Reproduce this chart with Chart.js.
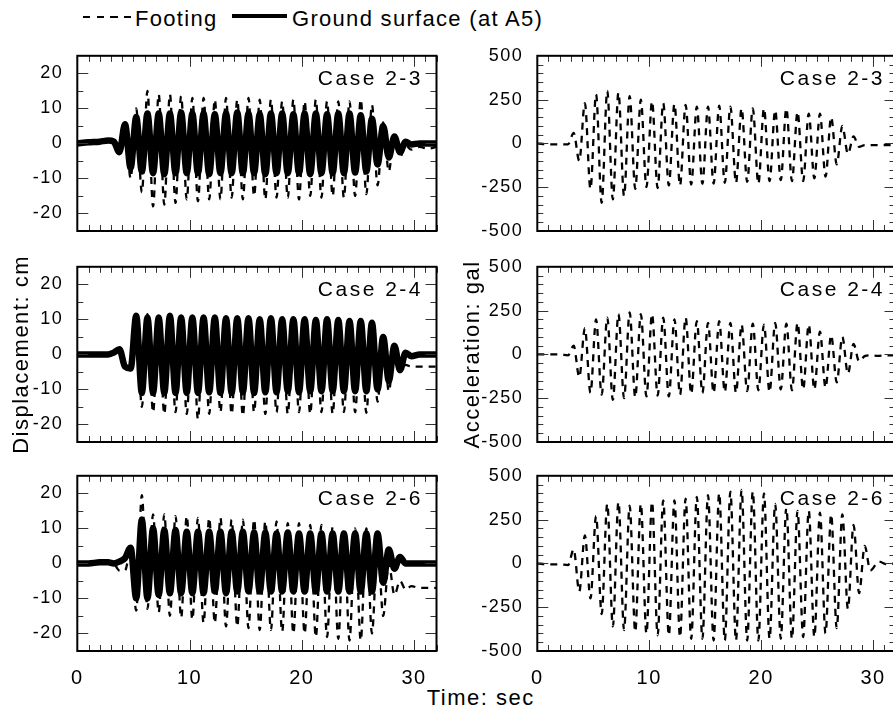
<!DOCTYPE html>
<html>
<head>
<meta charset="utf-8">
<script src="https://cdn.jsdelivr.net/npm/chart.js@4"></script>
<style>
  html, body { margin: 0; padding: 0; background: #fff; width: 893px; height: 714px; overflow: hidden; }
  canvas { position: absolute; }
  .txt { position: absolute; font-family: 'Liberation Sans', Arial, sans-serif; font-size: 22px; line-height: 22px; color: #000; white-space: nowrap; }
</style>
</head>
<body>
<div style="position:absolute;left:83.3px;top:15.7px;width:48.4px;height:2px;background:repeating-linear-gradient(90deg,#000 0 7.3px,transparent 7.3px 13.7px)"></div>
<div class="txt" style="left:135px;top:8px;letter-spacing:1.3px">Footing</div>
<div style="position:absolute;left:232px;top:14.3px;width:55px;height:4px;background:#000"></div>
<div class="txt" style="left:292px;top:8px;letter-spacing:1.3px">Ground surface (at A5)</div>
<div class="txt" style="left:426.7px;top:687.4px;letter-spacing:1.5px">Time: sec</div>

<canvas id="d23" width="440" height="232" style="left:0;top:39px"></canvas>
<canvas id="d24" width="440" height="232" style="left:0;top:250px"></canvas>
<canvas id="d26" width="440" height="232" style="left:0;top:459px"></canvas>
<canvas id="a23" width="439" height="232" style="left:460px;top:39px"></canvas>
<canvas id="a24" width="439" height="232" style="left:460px;top:250px"></canvas>
<canvas id="a26" width="439" height="232" style="left:460px;top:459px"></canvas>

<script>
// time of each turning point, sec
const timeSec = [0, 1, 2,
  2.75, 3.25, 3.75, 4.25, 4.75,
  5.25, 5.75, 6.25, 6.75, 7.25, 7.75, 8.25, 8.75, 9.25, 9.75,
  10.25, 10.75, 11.25, 11.75, 12.25, 12.75, 13.25, 13.75, 14.25, 14.75,
  15.25, 15.75, 16.25, 16.75, 17.25, 17.75, 18.25, 18.75, 19.25, 19.75,
  20.25, 20.75, 21.25, 21.75, 22.25, 22.75, 23.25, 23.75, 24.25, 24.75,
  25.25, 25.75, 26.25, 26.75, 27.25, 27.75, 28.25, 28.75, 29.25, 29.75,
  30.5, 31.25, 32]

// displacement, cm
const ground23 = [0, 0.3, 0.5,
  0.8, 0.5, -2.5, 5.5, -7,
  7.5, -8, 8.5, -8.5, 8.5, -8.8, 8.5, -8.5, 8.8, -8.5,
  8.5, -8.5, 8.5, -8.8, 8.3, -8.5, 8.5, -8.5, 8.8, -8.5,
  8.5, -8.5, 8.3, -8.8, 8.5, -8.5, 8.5, -8.5, 8.3, -8.5,
  8.5, -8.8, 8.5, -8.5, 8.3, -8.5, 8.5, -8.5, 8.5, -8.3,
  8, -8, 7, -6, 5, -4, 2, -2.5, 0.5, -0.3,
  0, 0, 0]
const footing23 = [0, 0.3, 0.5,
  0.8, 0, -3, 6, -10,
  10, -14, 15, -18, 14, -17.5, 14, -17, 13.5, -16,
  13, -16.5, 13, -16, 12.5, -16, 13, -15.5, 12.5, -16,
  13, -15, 12.5, -16, 12.5, -15.5, 12, -15.5, 12.5, -16,
  12, -15, 12.5, -15.5, 12, -15, 12, -15.5, 12, -15,
  12.5, -14.5, 11, -12, 6, -8, 3, -4, -0.5, -1.8,
  -1, -1.5, -1]
const ground24 = [0, 0, 0,
  0, 0.5, 1.5, -3.5, -4,
  11, -11, 10.5, -11, 10.5, -11, 11, -11, 10.5, -11,
  10.5, -11, 10.5, -10.8, 10.5, -11, 10.3, -11, 10.3, -10.8,
  10.3, -11, 10, -10.8, 10.3, -10.8, 10, -10.5, 10, -10.8,
  10, -10.5, 9.8, -10.5, 10, -10.5, 9.8, -10.5, 9.5, -10.5,
  9.5, -10.5, 9, -10, 5, -7.5, 2.5, -4.5, 0.5, -0.5,
  0, 0, 0]
const footing24 = [0, 0, 0,
  0, 0.5, 1.5, -3.5, -4.5,
  12, -15, 11.5, -16.5, 11, -17, 11.5, -16.5, 11, -17,
  11, -18.5, 11, -17, 10.5, -16.5, 10.8, -17, 10.5, -17.5,
  10.5, -16.5, 10.3, -17, 10.5, -16.5, 10.3, -17, 10, -16.5,
  10.3, -17, 10, -16.5, 10, -17, 10, -16.5, 9.8, -16.5,
  9.5, -16.7, 9, -13.5, 5, -10.5, 1, -5, -3, -3.5,
  -3.5, -3.5, -3.5]
const ground26 = [0, 0, 0.3,
  0.3, 0, 0.5, 1.5, 4.5,
  -10, 12.5, -10, 10, -9, 9.5, -8.5, 9.5, -8.5, 9,
  -8.5, 9, -8.5, 9, -8, 9, -8.5, 9, -8, 9,
  -8, 8.8, -8, 8.8, -8, 8.5, -8, 8.8, -8, 8.5,
  -8, 8.5, -8, 8.5, -8, 8.5, -8, 8.5, -8, 8.5,
  -8, 8.5, -8, 8.5, -5.5, 4, -1.5, 1.8, 0, 0,
  0, 0, 0]
const footing26 = [0, 0, 0.3,
  0.3, 0, -2, -2, 4,
  -13.5, 19.5, -13, 14, -14, 14, -15, 13.5, -15.5, 13.5,
  -16, 13, -17, 13, -17, 13, -18, 12.5, -18, 12.5,
  -18.5, 12.5, -19, 12, -19, 12, -19.5, 11.5, -20, 11.5,
  -20, 11, -21, 11, -21, 10.5, -21.5, 10, -22, 10,
  -22, 10, -20, 6, -15, 0, -9, -5, -7.5, -6.5,
  -7, -7, -7]

// acceleration, gal
const accel23 = [0, -5, -5,
  -5, 60, -100, 230, -260,
  280, -340, 300, -320, 290, -300, 270, -260, 250, -250,
  240, -255, 230, -240, 225, -240, 220, -235, 210, -230,
  210, -230, 215, -225, 210, -225, 200, -220, 200, -230,
  200, -215, 190, -210, 200, -215, 180, -215, 170, -200,
  170, -190, 150, -120, 100, -60, 40, -20, -10, -10,
  -10, -10, -10]
const accel24 = [0, 0, 0,
  -5, 50, -130, 150, -220,
  200, -230, 210, -260, 230, -250, 240, -245, 230, -240,
  230, -235, 210, -240, 200, -230, 210, -225, 190, -220,
  180, -220, 190, -215, 180, -220, 170, -210, 175, -205,
  170, -215, 180, -200, 175, -205, 180, -200, 170, -200,
  130, -190, 110, -160, 100, -110, 60, -40, -10, -5,
  -8, -5, -5]
const accel26 = [0, -5, -5,
  -10, 80, -160, 160, -200,
  270, -290, 340, -360, 350, -380, 330, -390, 340, -400,
  350, -410, 360, -410, 360, -420, 370, -430, 380, -430,
  390, -440, 400, -440, 410, -440, 420, -440, 410, -440,
  400, -430, 340, -430, 320, -430, 300, -420, 300, -420,
  290, -400, 280, -370, 280, -260, 220, -170, 100, -40,
  10, -5, 0]

const timeTicks = [0, 10, 20, 30]
const dispTicks = [-20, -10, 0, 10, 20]
const accelTicks = [-500, -250, 0, 250, 500]

const FONT = "'Liberation Sans', Arial, sans-serif"

const frameTicks = {
  id: 'frameTicks',
  beforeDraw(chart) {
    chart.ctx.letterSpacing = '1.5px'
  },
  afterDatasetsDraw(chart, args, opts) {
    const {ctx, chartArea: a} = chart
    const x = chart.scales.x, y = chart.scales.y
    ctx.save()
    // case label
    ctx.font = '21px ' + FONT
    ctx.letterSpacing = '2.5px'
    const w = ctx.measureText(opts.label).width
    const tx = a.right - opts.labelRight + 2.5
    ctx.fillStyle = '#fff'
    ctx.fillRect(tx - w - 2, a.top + 12, w + 2, 21)
    ctx.fillStyle = '#000'
    ctx.textAlign = 'right'
    ctx.textBaseline = 'alphabetic'
    ctx.fillText(opts.label, tx, a.top + 29)
    // inward ticks
    ctx.strokeStyle = '#333'
    ctx.lineWidth = 1
    ctx.beginPath()
    for (let t = 0; t <= 32; t += 1) {
      const px = Math.round(x.getPixelForValue(t)) + 0.5
      const len = t % 10 === 0 ? 11 : 6
      ctx.moveTo(px, a.top); ctx.lineTo(px, a.top + len)
      ctx.moveTo(px, a.bottom); ctx.lineTo(px, a.bottom - len)
    }
    for (let v = y.min + opts.minor; v < y.max; v += opts.minor) {
      const py = Math.round(y.getPixelForValue(v)) + 0.5
      const len = Math.abs(v % opts.major) < 1e-6 ? 11 : 6
      ctx.moveTo(a.left, py); ctx.lineTo(a.left + len, py)
      ctx.moveTo(a.right, py); ctx.lineTo(a.right - len, py)
    }
    ctx.stroke()
    // frame
    ctx.strokeStyle = '#000'
    ctx.lineWidth = 2
    ctx.strokeRect(a.left, a.top, a.right - a.left, a.bottom - a.top)
    ctx.restore()
  }
}

function points(values) {
  return values.map((v, i) => ({x: timeSec[i], y: v}))
}

function makeChart(id, datasets, cfg) {
  new Chart(document.getElementById(id), {
    type: 'line',
    data: {datasets},
    plugins: [frameTicks],
    options: {
      responsive: false,
      animation: false,
      layout: {padding: {top: 12, right: 3.5, left: 0, bottom: 0}},
      elements: {
        point: {radius: 0},
        line: {cubicInterpolationMode: 'monotone', borderCapStyle: 'butt', borderJoinStyle: 'round'}
      },
      plugins: {
        legend: {display: false},
        tooltip: {enabled: false},
        frameTicks: {label: cfg.label, labelRight: cfg.labelRight, minor: cfg.minor, major: cfg.major}
      },
      scales: {
        x: {
          type: 'linear', min: 0, max: 32,
          grid: {display: false}, border: {display: false},
          afterBuildTicks: s => { s.ticks = timeTicks.map(v => ({value: v})) },
          afterFit: s => { s.height = 40 },
          ticks: {display: cfg.showX, padding: 7, color: '#000', maxRotation: 0, autoSkip: false,
            font: {family: FONT, size: 20}}
        },
        y: {
          min: cfg.min, max: cfg.max,
          grid: {display: false}, border: {display: false},
          afterBuildTicks: s => { s.ticks = cfg.ticks.map(v => ({value: v})) },
          afterFit: s => { s.width = 77.3 },
          ticks: {padding: 6, color: '#000', font: {family: FONT, size: 18}},
          title: {display: !!cfg.title, text: cfg.title, color: '#000',
            font: {family: FONT, size: 22, lineHeight: 1.2}, padding: {top: cfg.titlePad, bottom: 0}}
        }
      }
    }
  })
}

function dispSets(ground, footing) {
  return [
    {data: points(ground), borderColor: '#000', borderWidth: 6.5},
    {data: points(footing), borderColor: '#000', borderWidth: 2.3, borderDash: [7, 6]}
  ]
}
function accelSets(accel) {
  return [{data: points(accel), borderColor: '#000', borderWidth: 2.3, borderDash: [7, 6]}]
}

const dispCfg = {min: -25, max: 25, ticks: dispTicks, minor: 5, major: 10, labelRight: 16, titlePad: 9}
const accelCfg = {min: -500, max: 500, ticks: accelTicks, minor: 50, major: 250, labelRight: 13, titlePad: 0}

makeChart('d23', dispSets(ground23, footing23), {...dispCfg, label: 'Case 2-3', showX: false})
makeChart('d24', dispSets(ground24, footing24), {...dispCfg, label: 'Case 2-4', showX: false, title: 'Displacement: cm'})
makeChart('d26', dispSets(ground26, footing26), {...dispCfg, label: 'Case 2-6', showX: true})
makeChart('a23', accelSets(accel23), {...accelCfg, label: 'Case 2-3', showX: false})
makeChart('a24', accelSets(accel24), {...accelCfg, label: 'Case 2-4', showX: false, title: 'Acceleration: gal'})
makeChart('a26', accelSets(accel26), {...accelCfg, label: 'Case 2-6', showX: true})
</script>
</body>
</html>
